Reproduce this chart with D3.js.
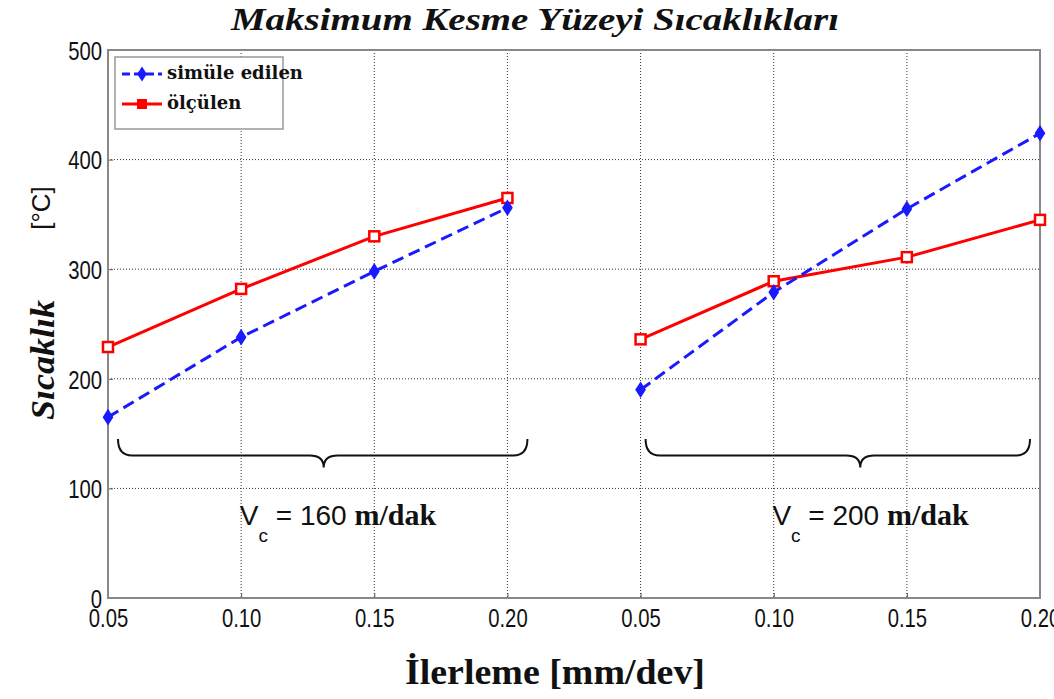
<!DOCTYPE html>
<html>
<head>
<meta charset="utf-8">
<script src="https://cdn.jsdelivr.net/npm/d3@7"></script>
<style>
  body { margin: 0; background: #fff; }
  svg { display: block; }
</style>
</head>
<body>
<div id="chart"></div>
<script>
// tick labels along x (two cutting speed groups, same feeds)
var feedLabels = ["0.05", "0.10", "0.15", "0.20", "0.05", "0.10", "0.15", "0.20"];
var groupLabels = ["160", "200"];

// temperatures [°C], one array per group
var simulated160 = [165, 238, 298, 356];
var measured160 = [229, 282, 330, 365];
var simulated200 = [190, 279, 355, 424];
var measured200 = [236, 289, 311, 345];

var yTicks = [0, 100, 200, 300, 400, 500];

var W = 1054, H = 699;
var margin = {top: 50, right: 14, bottom: 101, left: 108};
var width = W - margin.left - margin.right;
var height = H - margin.top - margin.bottom;

var svg = d3.select("#chart").append("svg")
    .attr("width", W)
    .attr("height", H);

var g = svg.append("g")
    .attr("transform", "translate(" + margin.left + "," + margin.top + ")");

var x = d3.scaleLinear().domain([0, 7]).range([0, width]);
var y = d3.scaleLinear().domain([0, 500]).range([height, 0]);

// grid
g.append("g").selectAll("line.vg")
    .data(d3.range(1, 7))
    .enter().append("line")
    .attr("x1", function(d) { return x(d); })
    .attr("x2", function(d) { return x(d); })
    .attr("y1", 0).attr("y2", height)
    .attr("stroke", "#333").attr("stroke-width", 1)
    .attr("stroke-dasharray", "1,2");

g.append("g").selectAll("line.hg")
    .data(yTicks.slice(1, 5))
    .enter().append("line")
    .attr("x1", 0).attr("x2", width)
    .attr("y1", function(d) { return y(d); })
    .attr("y2", function(d) { return y(d); })
    .attr("stroke", "#333").attr("stroke-width", 1)
    .attr("stroke-dasharray", "1,2");

// axes
var xAxis = d3.axisBottom(x)
    .tickValues(d3.range(8))
    .tickFormat(function(d) { return feedLabels[d]; })
    .tickSize(-5).tickPadding(11);
var yAxis = d3.axisLeft(y)
    .tickValues(yTicks)
    .tickSize(-5).tickPadding(6);

var gx = g.append("g").attr("transform", "translate(0," + height + ")").call(xAxis);
var gy = g.append("g").call(yAxis);

[gx, gy].forEach(function(a) {
    a.select(".domain").remove();
    a.selectAll(".tick line").attr("stroke", "#555");
    a.selectAll("text")
        .attr("font-family", "Liberation Sans, Arial, sans-serif")
        .attr("font-size", 26)
        .attr("fill", "#111")
        .attr("transform", "scale(0.78,1)");
});
gx.selectAll(".tick text").attr("x", 0);
gy.selectAll(".tick text").attr("x", -6 / 0.78).attr("dy", "0.36em");

// box
g.append("rect")
    .attr("x", 0).attr("y", 0)
    .attr("width", width).attr("height", height)
    .attr("fill", "none").attr("stroke", "#888").attr("stroke-width", 2);

// series
var line = d3.line()
    .x(function(d) { return x(d.i); })
    .y(function(d) { return y(d.v); });

function pts(arr, offset) {
    return arr.map(function(v, i) { return {i: i + offset, v: v}; });
}

var series = [
    {data: pts(measured160, 0), kind: "meas"},
    {data: pts(measured200, 4), kind: "meas"},
    {data: pts(simulated160, 0), kind: "sim"},
    {data: pts(simulated200, 4), kind: "sim"}
];

series.forEach(function(s) {
    var isSim = s.kind === "sim";
    g.append("path")
        .datum(s.data)
        .attr("d", line)
        .attr("fill", "none")
        .attr("stroke", isSim ? "#1a1aff" : "#ff0000")
        .attr("stroke-width", 3)
        .attr("stroke-dasharray", isSim ? "12,6" : null);

    if (isSim) {
        g.selectAll(null).data(s.data).enter().append("path")
            .attr("d", d3.symbol().type(d3.symbolDiamond).size(110))
            .attr("transform", function(d) { return "translate(" + x(d.i) + "," + y(d.v) + ") scale(0.95,0.85)"; })
            .attr("fill", "#1a1aff");
    } else {
        g.selectAll(null).data(s.data).enter().append("rect")
            .attr("x", function(d) { return x(d.i) - 5; })
            .attr("y", function(d) { return y(d.v) - 5; })
            .attr("width", 10).attr("height", 10)
            .attr("fill", "#fff")
            .attr("stroke", "#ff0000").attr("stroke-width", 2.5);
    }
});

// braces under each group
function brace(x0, x1, xm, yTop, yMid, yTip) {
    var r = 14;
    return "M" + x0 + "," + yTop +
        " Q" + x0 + "," + yMid + " " + (x0 + r) + "," + yMid +
        " L" + (xm - r) + "," + yMid +
        " Q" + xm + "," + yMid + " " + xm + "," + yTip +
        " Q" + xm + "," + yMid + " " + (xm + r) + "," + yMid +
        " L" + (x1 - r) + "," + yMid +
        " Q" + x1 + "," + yMid + " " + x1 + "," + yTop;
}

var braces = [
    {x0: x(0) + 10, x1: x(3) + 20, xm: x(1.62), label: groupLabels[0], tx: x(0.99)},
    {x0: x(4) + 5, x1: x(7) - 10, xm: x(5.65), label: groupLabels[1], tx: x(4.99)}
];

braces.forEach(function(b) {
    g.append("path")
        .attr("d", brace(b.x0, b.x1, b.xm, y(145), y(130), y(119)))
        .attr("fill", "none")
        .attr("stroke", "#111")
        .attr("stroke-width", 2);

    var t = g.append("text")
        .attr("x", b.tx)
        .attr("y", y(67))
        .attr("font-size", 28)
        .attr("fill", "#111");
    t.append("tspan").attr("font-family", "Liberation Sans, Arial, sans-serif").text("V");
    t.append("tspan").attr("font-family", "Liberation Sans, Arial, sans-serif")
        .attr("font-size", 19).attr("dy", 17).text("c");
    t.append("tspan").attr("font-family", "Liberation Sans, Arial, sans-serif")
        .attr("dy", -17).text(" = " + b.label + " ");
    t.append("tspan").attr("font-family", "Liberation Serif, Times New Roman, serif")
        .attr("font-weight", "bold").attr("font-size", 30)
        .text("m/dak");
});

// legend
var lg = g.append("g").attr("transform", "translate(7,7)");
lg.append("rect")
    .attr("width", 168).attr("height", 72)
    .attr("fill", "#fff").attr("stroke", "#999").attr("stroke-width", 1.5);

var legendItems = [
    {label: "simüle edilen", color: "#1a1aff", dash: "8,4", sym: "diamond"},
    {label: "ölçülen", color: "#ff0000", dash: null, sym: "square"}
];
legendItems.forEach(function(it, i) {
    var ly = 17 + i * 30;
    lg.append("line")
        .attr("x1", 7).attr("x2", 47).attr("y1", ly).attr("y2", ly)
        .attr("stroke", it.color).attr("stroke-width", 3)
        .attr("stroke-dasharray", it.dash);
    if (it.sym === "diamond") {
        lg.append("path")
            .attr("d", d3.symbol().type(d3.symbolDiamond).size(90))
            .attr("transform", "translate(27," + ly + ") scale(0.95,0.85)")
            .attr("fill", it.color);
    } else {
        lg.append("rect")
            .attr("x", 22).attr("y", ly - 5).attr("width", 10).attr("height", 10)
            .attr("fill", it.color);
    }
    lg.append("text")
        .attr("x", 52).attr("y", ly + 5)
        .attr("font-family", "DejaVu Serif, serif")
        .attr("font-weight", "bold")
        .attr("font-size", 18)
        .attr("fill", "#111")
        .text(it.label);
});

// title
svg.append("text")
    .attr("x", 535).attr("y", 30)
    .attr("text-anchor", "middle")
    .attr("font-family", "Liberation Serif, Times New Roman, serif")
    .attr("font-weight", "bold").attr("font-style", "italic")
    .attr("font-size", 32)
    .attr("textLength", 608)
    .attr("lengthAdjust", "spacingAndGlyphs")
    .attr("fill", "#111")
    .text("Maksimum Kesme Yüzeyi Sıcaklıkları");

// x label
svg.append("text")
    .attr("x", 555).attr("y", 684)
    .attr("text-anchor", "middle")
    .attr("font-family", "Liberation Serif, Times New Roman, serif")
    .attr("font-weight", "bold")
    .attr("font-size", 36)
    .attr("textLength", 300)
    .attr("lengthAdjust", "spacingAndGlyphs")
    .attr("fill", "#111")
    .text("İlerleme  [mm/dev]");

// y label
var yl = svg.append("g").attr("transform", "translate(54,0) rotate(-90)");
yl.append("text")
    .attr("x", -360).attr("y", 0)
    .attr("text-anchor", "middle")
    .attr("font-family", "Liberation Serif, Times New Roman, serif")
    .attr("font-weight", "bold").attr("font-style", "italic")
    .attr("font-size", 34)
    .attr("textLength", 120)
    .attr("lengthAdjust", "spacingAndGlyphs")
    .attr("fill", "#111")
    .text("Sıcaklık");
yl.append("text")
    .attr("x", -208).attr("y", -4)
    .attr("text-anchor", "middle")
    .attr("font-family", "Liberation Sans, Arial, sans-serif")
    .attr("font-size", 26)
    .attr("fill", "#111")
    .text("[°C]");
</script>
</body>
</html>
